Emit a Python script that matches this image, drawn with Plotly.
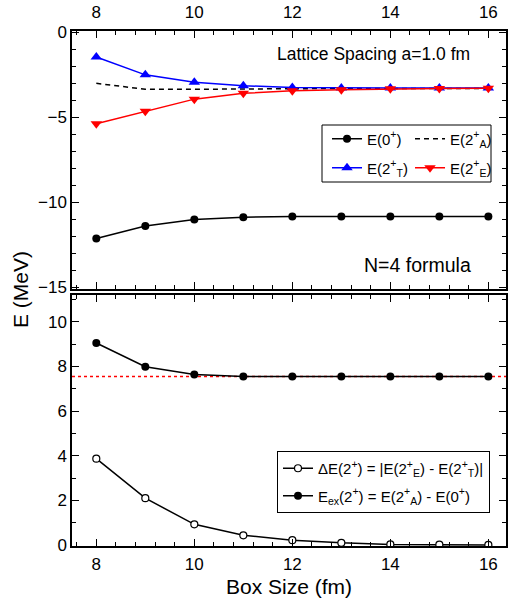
import plotly.graph_objects as go
from plotly.subplots import make_subplots

# ---- data ----
box_size = [8, 9, 10, 11, 12, 13, 14, 15, 16]
e_0 = [-12.13, -11.39, -11.01, -10.88, -10.84, -10.84, -10.84, -10.84, -10.84]
e_2a = [-3.00, -3.35, -3.35, -3.32, -3.30, -3.30, -3.30, -3.30, -3.30]
e_2t = [-1.45, -2.50, -2.94, -3.14, -3.24, -3.27, -3.27, -3.27, -3.27]
e_2e = [-5.38, -4.64, -3.93, -3.59, -3.43, -3.38, -3.32, -3.30, -3.29]
delta_e = [3.87, 2.10, 0.93, 0.44, 0.22, 0.10, 0.03, 0.02, 0.01]
e_ex = [9.05, 7.99, 7.64, 7.55, 7.55, 7.55, 7.55, 7.55, 7.55]
e_ex_limit = 7.55

top_ticks = [0, -5, -10, -15]
bot_ticks = [0, 2, 4, 6, 8, 10]
x_ticks = [8, 10, 12, 14, 16]

FONT = "Liberation Sans, Arial, Helvetica, sans-serif"

fig = make_subplots(rows=2, cols=1, shared_xaxes=False, vertical_spacing=0.0117,
                    row_heights=[0.5068, 0.4932])

# top panel
fig.add_trace(go.Scatter(x=box_size, y=e_0, mode="lines+markers", name="E(0<sup>+</sup>)",
                         line=dict(color="black", width=1.5),
                         marker=dict(symbol="circle", size=8, color="black"),
                         legend="legend"), row=1, col=1)
fig.add_trace(go.Scatter(x=box_size, y=e_2a, mode="lines", name="E(2<sup>+</sup><sub>A</sub>)",
                         line=dict(color="black", width=1.5, dash="5px,4px"),
                         legend="legend"), row=1, col=1)
fig.add_trace(go.Scatter(x=box_size, y=e_2t, mode="lines+markers", name="E(2<sup>+</sup><sub>T</sub>)",
                         line=dict(color="#0000ff", width=1.5),
                         marker=dict(symbol="triangle-up", size=10, color="#0000ff"),
                         legend="legend3"), row=1, col=1)
fig.add_trace(go.Scatter(x=box_size, y=e_2e, mode="lines+markers", name="E(2<sup>+</sup><sub>E</sub>)",
                         line=dict(color="#ff0000", width=1.5),
                         marker=dict(symbol="triangle-down", size=10, color="#ff0000"),
                         legend="legend3"), row=1, col=1)

# bottom panel
fig.add_trace(go.Scatter(x=box_size, y=delta_e, mode="lines+markers",
                         name="ΔE(2<sup>+</sup>) = |E(2<sup>+</sup><sub>E</sub>) - E(2<sup>+</sup><sub>T</sub>)|",
                         line=dict(color="black", width=1.5),
                         marker=dict(symbol="circle", size=7, color="white",
                                     line=dict(color="black", width=1.2)),
                         legend="legend2", legendgroup="de"), row=2, col=1)
fig.add_trace(go.Scatter(x=box_size, y=e_ex, mode="lines+markers",
                         name="E<sub>ex</sub>(2<sup>+</sup>) = E(2<sup>+</sup><sub>A</sub>) - E(0<sup>+</sup>)",
                         line=dict(color="black", width=1.5),
                         marker=dict(symbol="circle", size=8, color="black"),
                         legend="legend2", legendgroup="ex"), row=2, col=1)

fig.add_shape(type="line", xref="x2 domain", yref="y2", x0=0, x1=1,
              y0=e_ex_limit, y1=e_ex_limit,
              line=dict(color="#ff0000", width=1.5, dash="dot"), layer="below")

axis_common = dict(showline=True, linecolor="black", linewidth=1.5, mirror="ticks",
                   ticks="inside", ticklen=7, tickwidth=1.3, tickcolor="black",
                   showgrid=False, zeroline=False, automargin=False,
                   tickfont=dict(family=FONT, size=17, color="black"))

xr = [7.504, 16.36]
fig.update_xaxes(range=xr, tickvals=x_ticks,
                 minor=dict(dtick=0.4, tick0=8, ticks="inside", ticklen=4, tickwidth=1.2,
                            tickcolor="black", showgrid=False),
                 **axis_common)
fig.update_xaxes(side="top", ticklabelstandoff=4, row=1, col=1)
fig.update_xaxes(side="bottom", ticklabelstandoff=2, row=2, col=1)

fig.update_yaxes(range=[-15.1, 0.08], tickvals=top_ticks,
                 minor=dict(dtick=1, tick0=0, ticks="inside", ticklen=4, tickwidth=1.2,
                            tickcolor="black", showgrid=False),
                 row=1, col=1, **axis_common)
fig.update_yaxes(range=[-0.04, 11.2], tickvals=bot_ticks,
                 minor=dict(dtick=1, tick0=0, ticks="inside", ticklen=4, tickwidth=1.2,
                            tickcolor="black", showgrid=False),
                 row=2, col=1, **axis_common)

leg_common = dict(font=dict(family=FONT, size=15, color="black"),
                  bgcolor="rgba(0,0,0,0)", borderwidth=0,
                  orientation="h", entrywidth=38, xanchor="left", yanchor="middle",
                  itemclick=False, itemdoubleclick=False, tracegroupgap=0)

# legend box for the top panel (two rows)
fig.add_shape(type="rect", xref="paper", yref="paper",
              x0=(322 - 72) / 434, x1=(491 - 72) / 434,
              y0=(546 - 182) / 515, y1=(546 - 125) / 515,
              line=dict(color="black", width=1), fillcolor="white", layer="above")

fig.update_layout(
    width=509, height=602,
    margin=dict(l=72, r=3, t=31, b=56, autoexpand=False),
    paper_bgcolor="white", plot_bgcolor="white",
    font=dict(family=FONT, color="black"),
    showlegend=True,
    legend=dict(x=0.5876, y=(546 - 139) / 515, **leg_common),
    legend3=dict(x=0.5876, y=(546 - 168) / 515, **leg_common),
    legend2=dict(x=(277 - 72) / 434, y=(546 - 451) / 515, xanchor="left", yanchor="top",
                 orientation="v", bgcolor="white", bordercolor="black", borderwidth=1,
                 tracegroupgap=5,
                 font=dict(family=FONT, size=15, color="black"),
                 itemclick=False, itemdoubleclick=False),
    annotations=[
        dict(text="Lattice Spacing a=1.0 fm", xref="x domain", yref="y domain",
             x=(472 - 72) / 434, y=(286 - 54) / 255, xanchor="right", yanchor="middle",
             showarrow=False, font=dict(family=FONT, size=17.5, color="black")),
        dict(text="N=4 formula", xref="x domain", yref="y domain",
             x=(473 - 72) / 434, y=(286 - 262) / 255, xanchor="right", yanchor="middle",
             showarrow=False, font=dict(family=FONT, size=19.5, color="black")),
        dict(text="E (MeV)", xref="paper", yref="paper", x=0, y=(546 - 290) / 515,
             xanchor="center", yanchor="middle", xshift=-52, textangle=-90,
             showarrow=False, font=dict(family=FONT, size=21, color="black")),
        dict(text="Box Size (fm)", xref="paper", yref="paper", x=0.5, y=0,
             xanchor="center", yanchor="middle", yshift=-40,
             showarrow=False, font=dict(family=FONT, size=21, color="black")),
    ],
)

fig.write_html("out.html", config={"displayModeBar": False},
               post_script="document.body.style.margin='0px';")
